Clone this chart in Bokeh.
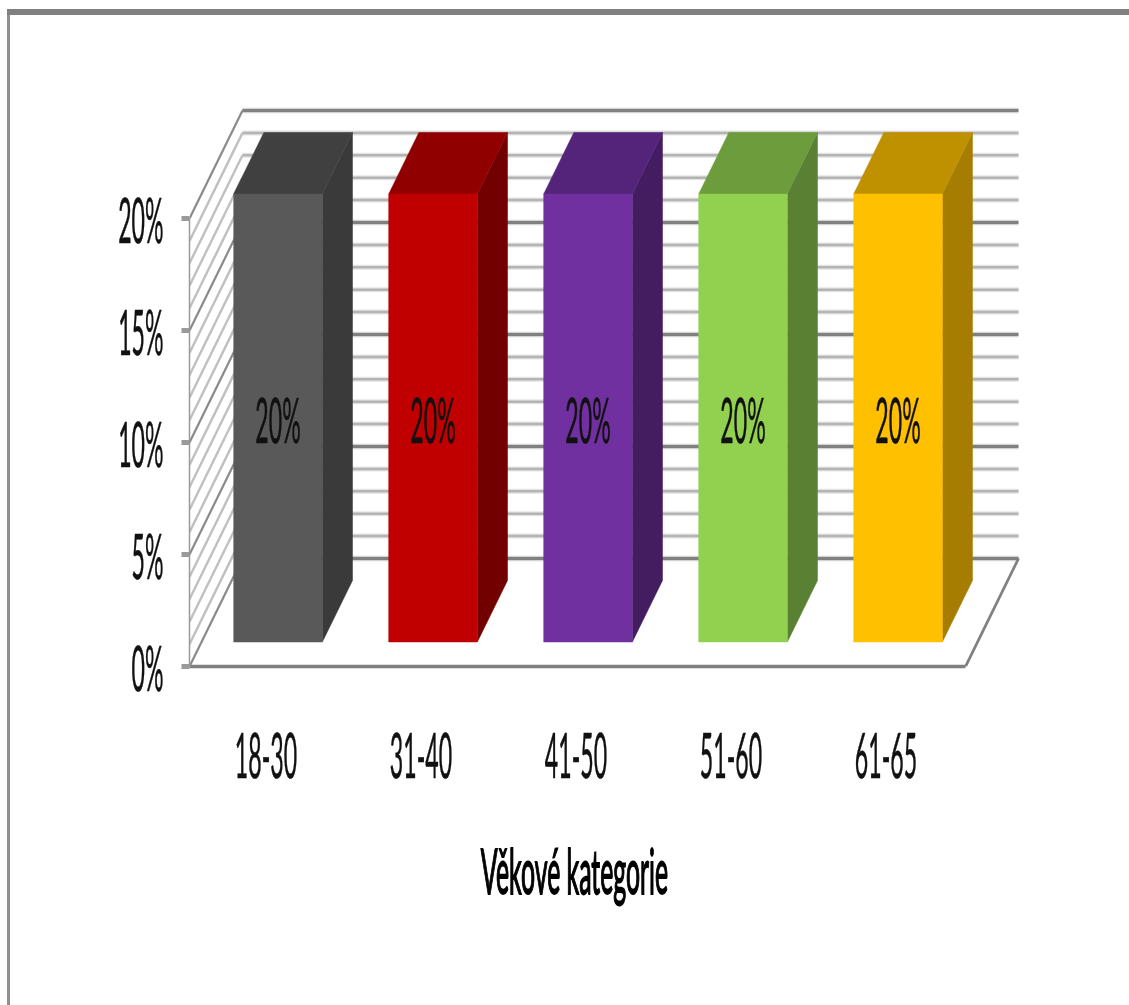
from bokeh.plotting import figure
from bokeh.document import Document
from bokeh.models import Range1d, FixedTicker, CustomJS
from bokeh.core.properties import value as bk_value
from bokeh.embed import file_html
from bokeh.resources import INLINE

categories = ["18-30", "31-40", "41-50", "51-60", "61-65"]
values = [20, 20, 20, 20, 20]
value_labels = ["20%", "20%", "20%", "20%", "20%"]
front_colors = ["#595959", "#C00000", "#7030A0", "#92D050", "#FFC000"]
top_colors = ["#404040", "#900000", "#54247A", "#6D9C3C", "#BF9000"]
side_colors = ["#3A3A3A", "#730000", "#431D60", "#5A8033", "#A67D00"]
y_ticks = [0, 5, 10, 15, 20]
y_tick_labels = ["0%", "5%", "10%", "15%", "20%"]
axis_title = "Věkové kategorie"

FONT = "Lato"
TEXT_SIZE = "62px"
DX, DY = 53 / 155, 108 / 22.4           # oblique projection of the depth axis
X0, X1 = -0.4935, 4.513                 # floor extent
D0, D1 = 0.227, 0.796                   # bar depth extent
HALF = 0.286                            # bar half width
YMAX = 20

def proj(x, y, d):
    return x + d * DX, y + d * DY

p = figure(width=1129, height=1005, output_backend="svg", toolbar_location=None,
           x_range=Range1d(-0.4935, 5.571), y_range=Range1d(0, 666 / 22.4),
           min_border_left=189, min_border_right=0, min_border_top=0, min_border_bottom=339,
           outline_line_color=None, background_fill_color=None, border_fill_color=None)
p.grid.visible = False

# axes
p.yaxis.ticker = FixedTicker(ticks=y_ticks)
p.yaxis.major_label_overrides = dict(zip(y_ticks, y_tick_labels))
p.yaxis.bounds = (0, YMAX)
p.yaxis.major_tick_out = 8
p.yaxis.major_tick_in = 0
p.yaxis.minor_tick_line_color = None
p.yaxis.major_tick_line_width = 5
p.yaxis.major_tick_line_color = "#9a9a9a"
p.yaxis.axis_line_color = "#9a9a9a"
p.yaxis.axis_line_width = 1.5
p.yaxis.major_label_standoff = 18
p.yaxis.major_label_text_font = FONT
p.yaxis.major_label_text_font_size = TEXT_SIZE
p.yaxis.major_label_text_color = "#111111"

p.xaxis.ticker = FixedTicker(ticks=list(range(len(categories))))
p.xaxis.major_label_overrides = {i: c for i, c in enumerate(categories)}
p.xaxis.bounds = (X0, X1)
p.xaxis.major_tick_line_color = None
p.xaxis.minor_tick_line_color = None
p.xaxis.axis_line_color = "#808080"
p.xaxis.axis_line_width = 3.5
p.xaxis.major_label_standoff = 61
p.xaxis.major_label_text_font = FONT
p.xaxis.major_label_text_font_size = TEXT_SIZE
p.xaxis.major_label_text_color = "#111111"
p.xaxis.axis_label = axis_title
p.xaxis.axis_label_standoff = 52
p.xaxis.axis_label_text_font = FONT
p.xaxis.axis_label_text_font_style = "normal"
p.xaxis.axis_label_text_font_size = TEXT_SIZE
p.xaxis.axis_label_text_color = "#000000"

# back wall: one line per percent
levels = list(range(0, YMAX + 1))
minor = [v for v in levels if v % 5]
major = [v for v in levels if v % 5 == 0]
for lev_set, wide, wc, nw, nc in [
    (minor, 5, "#e4e4e4", 2.5, "#b4b4b4"),
    (major, 5.5, "#d4d4d4", 3, "#808080"),
]:
    xs = [[X0 + DX, X1 + DX] for _ in lev_set]
    ys = [[v + DY, v + DY] for v in lev_set]
    p.multi_line(xs, ys, line_color=wc, line_width=wide)
    p.multi_line(xs, ys, line_color=nc, line_width=nw)

# side wall
for lev_set, c, w in [(minor, "#c0c0c0", 2.4), (major, "#8a8a8a", 2.2)]:
    p.multi_line([[X0, X0 + DX] for _ in lev_set], [[v, v + DY] for v in lev_set],
                 line_color=c, line_width=w)

# floor right edge
p.line([X1, X1 + DX], [0, DY], line_color="#808080", line_width=2.8)

# bars
for i, v in enumerate(values):
    l, r = i - HALF, i + HALF
    fr = [proj(l, 0, D0), proj(r, 0, D0), proj(r, v, D0), proj(l, v, D0)]
    side = [proj(r, 0, D0), proj(r, 0, D1), proj(r, v, D1), proj(r, v, D0)]
    top = [proj(l, v, D0), proj(r, v, D0), proj(r, v, D1), proj(l, v, D1)]
    for poly, c in [(side, side_colors[i]), (top, top_colors[i]), (fr, front_colors[i])]:
        p.patch([a for a, _ in poly], [b for _, b in poly], fill_color=c, line_color=c, line_width=0.5)
    lx, ly = proj(i, v / 2, D0)
    p.text([lx], [ly], text=[value_labels[i]], text_align="center", text_baseline="middle", y_offset=1,
           text_font=bk_value(FONT), text_font_size=TEXT_SIZE, text_color="#111111")

# frame of the picture: top and left rules, behind the transparent canvas
p.styles = {"background":
            "linear-gradient(#808080,#808080) 7px 9px / 1122px 6px no-repeat,"
            "linear-gradient(#8f8f8f,#8f8f8f) 7px 9px / 3px 996px no-repeat,"
            "white"}

# the reference's lettering is squeezed horizontally and the picture is soft:
# apply the same squeeze to the SVG texts and the same softness to the SVG
squeeze = CustomJS(args=dict(sx=0.373, sx_title=0.4, dy_y=1, dx_title=-85), code="""
function walk(root, out) {
  root.querySelectorAll('*').forEach(el => {
    out.push(el);
    if (el.shadowRoot) walk(el.shadowRoot, out);
  });
  return out;
}
function apply() {
  walk(document, []).forEach(t => {
    const tag = t.tagName ? t.tagName.toLowerCase() : '';
    if (tag === 'svg') { t.style.filter = 'blur(0.7px)'; return; }
    if (tag !== 'text' || t.dataset.sq) return;
    const b = t.getBBox();
    if (!b.width) return;
    const r = t.getBoundingClientRect();
    const isY = r.right < 185;
    const isTitle = r.top > 800;
    const ox = isY ? b.x + b.width : b.x + b.width / 2;
    const dy = isY ? dy_y : 0;
    const dx = isTitle ? dx_title : 0;
    const s = isTitle ? sx_title : sx;
    const orig = t.getAttribute('transform') || '';
    t.setAttribute('transform', orig + ` translate(${ox + dx},${dy}) scale(${s},1) translate(${-ox},0)`);
    t.style.stroke = t.getAttribute('fill') || '#111111';
    t.style.strokeWidth = isTitle ? '1.8px' : '0.6px';
    t.dataset.sq = '1';
  });
}
apply();
setInterval(apply, 50);
""")

doc = Document()
doc.add_root(p)
doc.js_on_event("document_ready", squeeze)

open("out.html", "w").write(file_html(doc, INLINE))
